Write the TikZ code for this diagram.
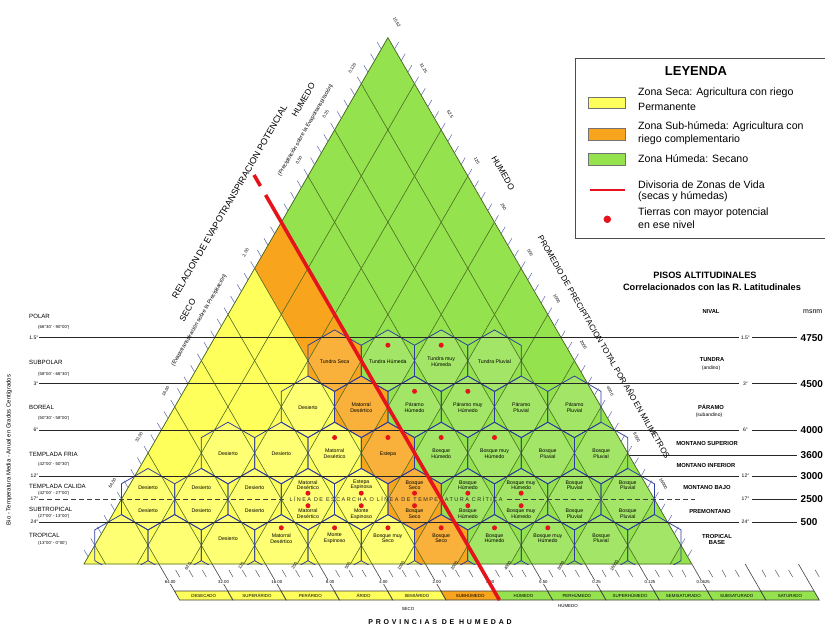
\documentclass[tikz,border=0pt]{standalone}
\usepackage{fontspec}
\setmainfont{Liberation Sans}
\newfontfamily\spacedfont[LetterSpace=40]{Liberation Sans}
\newfontfamily\frostfont[LetterSpace=26]{Liberation Sans}
\usetikzlibrary{calc}
\definecolor{zy}{HTML}{FFFF5C}
\definecolor{zo}{HTML}{F8A41C}
\definecolor{zg}{HTML}{94E24E}
\definecolor{diagc}{HTML}{4B6B22}
\definecolor{hexc}{HTML}{2E3B9E}
\definecolor{redl}{HTML}{E5141C}
\definecolor{tickc}{HTML}{5B66A6}
\def\hexes{334.6/360.7/zo,387.9/360.7/zg,441.2/360.7/zg,494.5/360.7/zg,307.95/406.8/zy,361.25/406.8/zo,414.55/406.8/zg,467.85/406.8/zg,521.15/406.8/zg,574.45/406.8/zg,228/453/zy,281.3/453/zy,334.6/453/zy,387.9/453/zo,441.2/453/zg,494.5/453/zg,547.8/453/zg,601.1/453/zg,148.05/499.2/zy,201.35/499.2/zy,254.65/499.2/zy,307.95/499.2/zy,361.25/499.2/zy,414.55/499.2/zo,467.85/499.2/zg,521.15/499.2/zg,574.45/499.2/zg,627.75/499.2/zg,121.4/545.3/zy,174.7/545.3/zy,228/545.3/zy,281.3/545.3/zy,334.6/545.3/zy,387.9/545.3/zy,441.2/545.3/zo,494.5/545.3/zg,547.8/545.3/zg,601.1/545.3/zg,654.4/545.3/zg}
\def\labsA{334.6/360.7/Tundra Seca/0,387.9/360.7/Tundra Húmeda/1,441.2/360.7/Tundra muy\\Húmeda/1,494.5/360.7/Tundra Pluvial/0,307.95/406.8/Desierto/0,361.25/406.8/Matorral\\Desértico/0,414.55/406.8/Páramo\\Húmedo/1,467.85/406.8/Páramo muy\\Húmedo/1,521.15/406.8/Páramo\\Pluvial/0,574.45/406.8/Páramo\\Pluvial/0,228/453/Desierto/0,281.3/453/Desierto/0,334.6/453/Matorral\\Desértico/1,387.9/453/Estepa/1,441.2/453/Bosque\\Húmedo/1,494.5/453/Bosque muy\\Húmedo/1,547.8/453/Bosque\\Pluvial/0,601.1/453/Bosque\\Pluvial/0}
\def\labsD{148.05/Desierto/Desierto/0,201.35/Desierto/Desierto/0,254.65/Desierto/Desierto/0,307.95/Matorral\\Desértico/Matorral\\Desértico/1,361.25/Estepa\\Espinosa/Monte\\Espinoso/1,414.55/Bosque\\Seco/Bosque\\Seco/1,467.85/Bosque\\Húmedo/Bosque\\Húmedo/1,521.15/Bosque muy\\Húmedo/Bosque muy\\Húmedo/1,574.45/Bosque\\Pluvial/Bosque\\Pluvial/0,627.75/Bosque\\Pluvial/Bosque\\Pluvial/0}
\def\labsE{228/Desierto/0,281.3/Matorral\\Desértico/1,334.6/Monte\\Espinoso/1,387.9/Bosque muy\\Seco/1,441.2/Bosque\\Seco/1,494.5/Bosque\\Húmedo/1,547.8/Bosque muy\\Húmedo/1,601.1/Bosque\\Pluvial/0}
\begin{document}
\begin{tikzpicture}[x=1pt,y=-1pt,
  hexline/.style={draw=hexc,line width=0.75pt},
  diagline/.style={draw=diagc,line width=0.6pt},
  hline/.style={draw=black!85,line width=0.7pt},
  tickline/.style={draw=tickc,line width=0.5pt},
  hexlab/.style={font=\fontsize{5.2}{5.8}\selectfont,align=center,inner sep=0pt},
  potdot/.style={circle,fill=redl,inner sep=0pt,minimum size=5pt},
  sidenum/.style={font=\fontsize{4.3}{5}\selectfont,inner sep=0pt},
  reglab/.style={font=\fontsize{6.1}{7}\selectfont,anchor=west,inner sep=0pt},
  regsub/.style={font=\fontsize{4.3}{5}\selectfont,anchor=west,inner sep=0pt},
  deglab/.style={font=\fontsize{5}{6}\selectfont,inner sep=0pt},
  altlab/.style={font=\bfseries\fontsize{5.8}{6.8}\selectfont,inner sep=0pt,align=center},
  altsub/.style={font=\fontsize{5}{6}\selectfont,inner sep=0pt},
  msnmlab/.style={font=\bfseries\fontsize{10}{12}\selectfont,anchor=west,inner sep=0pt},
  barlab/.style={font=\fontsize{4.4}{5}\selectfont,inner sep=0pt},
  legtext/.style={font=\fontsize{10.6}{12}\selectfont,anchor=west,inner sep=0pt},
  sideword/.style={font=\fontsize{8.5}{10}\selectfont,inner sep=0pt},
  sidesmall/.style={font=\fontsize{5.5}{6}\selectfont,inner sep=0pt},
  swatch/.style={draw=black!55,line width=0.8pt}
]
\useasboundingbox (0,0) rectangle (825,628);
\fill[white] (0,0) rectangle (825,628);

% ---------- zone fills, hex fills, diagonals (clipped to triangle)
\begin{scope}
\clip (83.95,564) -- (387.9,37.55) -- (691.85,564) -- cycle;
\fill[zy] (83.95,564) -- (254.65,268.35) -- (425.35,564) -- cycle;
\fill[zo] (254.65,268.35) -- (281.3,222.2) -- (478.65,564) -- (425.35,564) -- cycle;
\fill[zg] (281.3,222.2) -- (387.9,37.55) -- (691.85,564) -- (478.65,564) -- cycle;
\foreach \x/\y/\z in \hexes {
  \fill[\z] (\x,\y) ++(0,-30.773) -- ++(26.65,15.387) -- ++(0,30.773) -- ++(-26.65,15.387) -- ++(-26.65,-15.387) -- ++(0,-30.773) -- cycle;
  \fill[\z!86!white] (\x,\y) ++(-26.65,0) -- ++(13.325,-23.08) -- ++(13.325,-7.693) -- ++(13.325,7.693) -- ++(13.325,23.08) -- ++(-13.325,23.08) -- ++(-13.325,7.693) -- ++(-13.325,-7.693) -- cycle;
}
\foreach \k in {0,...,11} {
  \pgfmathsetmacro\c{94.75+53.3*\k}
  \draw[diagline] (\c-31.58,600) -- (\c+314.83,0);
  \draw[diagline] (\c+31.58,600) -- (\c-314.83,0);
}
\end{scope}
\draw[diagline] (83.95,564) -- (387.9,37.55) -- (691.85,564) -- cycle;

% ---------- hex outlines
\begin{scope}
\clip (0,0) rectangle (825,564);
\foreach \x/\y/\z in \hexes {
  \draw[hexline] (\x,\y) ++(0,-30.773) -- ++(26.65,15.387) -- ++(0,30.773) -- ++(-26.65,15.387) -- ++(-26.65,-15.387) -- ++(0,-30.773) -- cycle;
}
\end{scope}

% ---------- side ticks
\foreach \m in {-1,...,43} {
  \pgfmathsetmacro\px{94.75+6.6625*\m}
  \pgfmathsetmacro\py{545.3-11.5398*\m}
  \draw[tickline] (\px,\py) -- ++(-4,-6.9);
}
\foreach \m in {1,...,45} {
  \pgfmathsetmacro\px{387.9+6.6625*\m}
  \pgfmathsetmacro\py{37.55+11.5398*\m}
  \draw[tickline] (\px,\py) -- ++(4,-6.9);
}

% ---------- bottom strip
\foreach \i in {0,...,12} {
  \pgfmathsetmacro\dd{148.05+53.3*\i}
  \draw[black!75,line width=0.6pt] (\dd+10.8,564) -- (\dd+26.39,591);
  \foreach \m in {1,2,3} {
    \pgfmathsetmacro\xa{\dd+13.325*\m+14.26}
    \draw[black!65,line width=0.5pt] (\xa,570) -- ++(4.04,7);
  }
}
\foreach \v [count=\i from 0] in {64.00,32.00,16.00,8.00,4.00,2.00,1.00,0.50,0.25,0.125,0.0625} {
  \node[sidenum,fill=white,inner sep=0.6pt] (bl\i) at ({148.05+53.3*\i+22.2},582) {\v};
}
\foreach \v [count=\j from 0] in {62.5,125,250,500,1000,2000,4000,8000,16000} {
  \node[sidenum,rotate=60] (al\j) at ({187.85+53.3*\j},566) {\v};
}
\foreach \lab/\z [count=\i from 0] in {DESECADO/zy,SUPERÁRIDO/zy,PERÁRIDO/zy,ÁRIDO/zy,SEMIÁRIDO/zy,SUBHÚMEDO/zo,HÚMEDO/zg,PERHÚMEDO/zg,SUPERHÚMEDO/zg,SEMISATURADO/zg,SUBSATURADO/zg,SATURADO/zg} {
  \pgfmathsetmacro\da{148.05+53.3*\i}
  \pgfmathsetmacro\db{\da+53.3}
  \draw[fill=\z,draw=black!75,line width=0.7pt] (\da+26.39,591) -- (\db+26.39,591) -- (\db+31.58,600) -- (\da+31.58,600) -- cycle;
  \node[barlab] (bar\i) at ({(\da+\db)/2+29},595.5) {\lab};
}
\node[barlab] (seco) at (408,609) {SECO};
\node[barlab] (humedo) at (568,606) {HÚMEDO};
\node[font={\spacedfont\bfseries\fontsize{7}{8}\selectfont},inner sep=0pt] (prov) at (440,622) {PROVINCIAS DE HUMEDAD};

% ---------- horizontal lines
\foreach \yy in {337.6,383.7,429.9,476.1,522.2} {
  \draw[hline] (39,\yy) -- (739,\yy);
  \draw[hline] (752,\yy) -- (797,\yy);
}
\draw[hline] (629,455) -- (797,455);
\draw[black!75,line width=0.7pt,dash pattern=on 5pt off 3pt] (39,499.2) -- (285,499.2);
\draw[black!75,line width=0.7pt,dash pattern=on 5pt off 3pt] (507,499.2) -- (695,499.2);
\draw[hline] (752,499.2) -- (797,499.2);
\node[font={\frostfont\fontsize{5.5}{6}\selectfont},inner sep=0pt,text=black!85] (frost) at (396,499.4) {LÍNEA DE ESCARCHA O LÍNEA DE TEMPERATURA CRÍTICA};

% ---------- red dividing line
\draw[redl,line width=3.6pt] (254.06,175) -- (260.41,186);
\draw[redl,line width=3.6pt] (265.61,195) -- (499.4,600);

% ---------- hex labels and dots
\foreach \x/\y/\lab/\dt [count=\i] in \labsA {
  \node[hexlab] (hx\i) at (\x,\y+1) {\lab};
  \ifnum\dt=1 \node[potdot] (hd\i) at (\x,\y-15.5) {};\fi
}
\foreach \x/\up/\dn/\dt [count=\i] in \labsD {
  \node[hexlab,anchor=south] (hu\i) at (\x,490.2) {\up};
  \node[hexlab,anchor=north] (hn\i) at (\x,508.7) {\dn};
  \ifnum\dt=1 \node[potdot] (hdu\i) at (\x,493.2) {};\node[potdot] (hdd\i) at (\x,505.7) {};\fi
}
\foreach \x/\lab/\dt [count=\i] in \labsE {
  \node[hexlab] (he\i) at (\x,538.3) {\lab};
  \ifnum\dt=1 \node[potdot] (hde\i) at (\x,527.8) {};\fi
}

% ---------- side labels
\foreach \k/\v in {1/64.00,2/32.00,3/16.00,6/2.00,8/0.50,9/0.25,10/0.125} {
  \node[sidenum,rotate=60] (ll\k) at ({85.75+26.65*\k},{529.7-46.16*\k}) {\v};
}
\foreach \k/\v in {0/15.62,1/31.25,2/62.5,3/125,4/250,5/500,6/1000,7/2000,8/4000,9/8000,10/16000} {
  \node[sidenum,rotate=-60] (rl\k) at ({396.9+26.65*\k},{21.95+46.16*\k}) {\v};
}
\node[font=\fontsize{9}{10}\selectfont,inner sep=0pt,rotate=60] (reltitle) at (229.6,201.7) {RELACION DE EVAPOTRANSPIRACION POTENCIAL};
\node[sideword,rotate=60] (lseco) at (187.5,310.2) {SECO};
\node[sideword,rotate=60] (lhum) at (303.4,100) {HUMEDO};
\node[sidesmall,rotate=60] (lsm1) at (199.2,320.4) {(Evapotranspiración sobre la Precipitación)};
\node[sidesmall,rotate=60] (lsm2) at (305.6,130.1) {(Precipitación sobre la Evapotranspiración)};
\node[sideword,rotate=-60] (rhum) at (503.1,173.1) {HUMEDO};
\node[font=\fontsize{8.1}{9}\selectfont,inner sep=0pt,rotate=-60] (prectitle) at (604.5,346.7) {PROMEDIO DE PRECIPITACION TOTAL POR AÑO EN MILIMETROS};

% ---------- left region labels
\node[rotate=90,font=\fontsize{6}{7}\selectfont,inner sep=0pt] (biot) at (9,450) {Bio - Temperatura Media - Anual en Grados Centígrados};
\node[reglab] (r1) at (29,316) {POLAR};
\node[regsub] (r1s) at (38,327) {(66°30' - 90°00')};
\node[reglab] (r2) at (29,362) {SUBPOLAR};
\node[regsub] (r2s) at (38,374) {(58°00' - 66°30')};
\node[reglab] (r3) at (29,407) {BOREAL};
\node[regsub] (r3s) at (38,418) {(50°30' - 58°00')};
\node[reglab] (r4) at (29,454) {TEMPLADA FRIA};
\node[regsub] (r4s) at (38,464.5) {(42°00' - 50°30')};
\node[reglab] (r5) at (29,486.3) {TEMPLADA CALIDA};
\node[regsub] (r5s) at (38,493.3) {(42°00' - 27°00')};
\node[reglab] (r6) at (29,509.3) {SUBTROPICAL};
\node[regsub] (r6s) at (38,516.2) {(27°00' - 13°00')};
\node[reglab] (r7) at (29,535) {TROPICAL};
\node[regsub] (r7s) at (38,543.5) {(13°00' - 0°00')};
\foreach \yy/\t [count=\i] in {337.6/1.5°,383.7/3°,429.9/6°,476.1/12°,499.2/17°,522.2/24°} {
  \node[deglab,anchor=east] (dl\i) at (38.5,\yy) {\t};
  \node[deglab] (dr\i) at (745.5,\yy) {\t};
}

% ---------- right altitudinal labels
\node[font=\bfseries\fontsize{9.2}{11}\selectfont,inner sep=0pt] (pisos) at (705,275) {PISOS ALTITUDINALES};
\node[font=\bfseries\fontsize{9.2}{11}\selectfont,inner sep=0pt] (correl) at (712,287) {Correlacionados con las R. Latitudinales};
\node[altlab] (nival) at (711,312) {NIVAL};
\node[font=\fontsize{7}{8}\selectfont,anchor=west,inner sep=0pt] (msnm) at (803,312) {msnm};
\node[altlab] (tund) at (712,360) {TUNDRA};
\node[altsub] (tunds) at (711,368.5) {(andino)};
\node[altlab] (param) at (711,406.5) {PÁRAMO};
\node[altsub] (params) at (709,415) {(subandino)};
\node[altlab] (msup) at (707,443.5) {MONTANO SUPERIOR};
\node[altlab] (minf) at (706,465.5) {MONTANO INFERIOR};
\node[altlab] (mbaj) at (707,488) {MONTANO BAJO};
\node[altlab] (prem) at (710,511.5) {PREMONTANO};
\node[altlab] (trop) at (717,539.5) {TROPICAL\\BASE};
\foreach \yy/\t [count=\i] in {337.6/4750,383.7/4500,429.9/4000,455/3600,476.1/3000,499.2/2500,522.2/500} {
  \node[msnmlab] (ms\i) at (800.5,\yy) {\t};
}

% ---------- legend
\draw[black!70,line width=0.8pt] (575,58) rectangle (830,238);
\node[font=\bfseries\fontsize{13}{15}\selectfont,inner sep=0pt] (leyenda) at (696,71) {LEYENDA};
\draw[swatch,fill=zy] (588,97) rectangle (625,108.5);
\draw[swatch,fill=zo] (588,128) rectangle (625,140);
\draw[swatch,fill=zg] (588,153) rectangle (625,165);
\draw[redl,line width=1.8pt] (590,190) -- (625,190);
\node[potdot,minimum size=7.5pt] (legdot) at (607.3,219.3) {};
\node[legtext] (lg1) at (638,93) {Zona Seca: Agricultura con riego};
\node[legtext] (lg1b) at (638,107) {Permanente};
\node[legtext] (lg2) at (638,126.5) {Zona Sub-húmeda: Agricultura con};
\node[legtext] (lg2b) at (638,139.3) {riego complementario};
\node[legtext] (lg3) at (638,158.3) {Zona Húmeda: Secano};
\node[legtext] (lg4) at (638,184.5) {Divisoria de Zonas de Vida};
\node[legtext] (lg4b) at (638,197) {(secas y húmedas)};
\node[legtext] (lg5) at (638,213) {Tierras con mayor potencial};
\node[legtext] (lg5b) at (638,225) {en ese nivel};
\end{tikzpicture}
\end{document}
